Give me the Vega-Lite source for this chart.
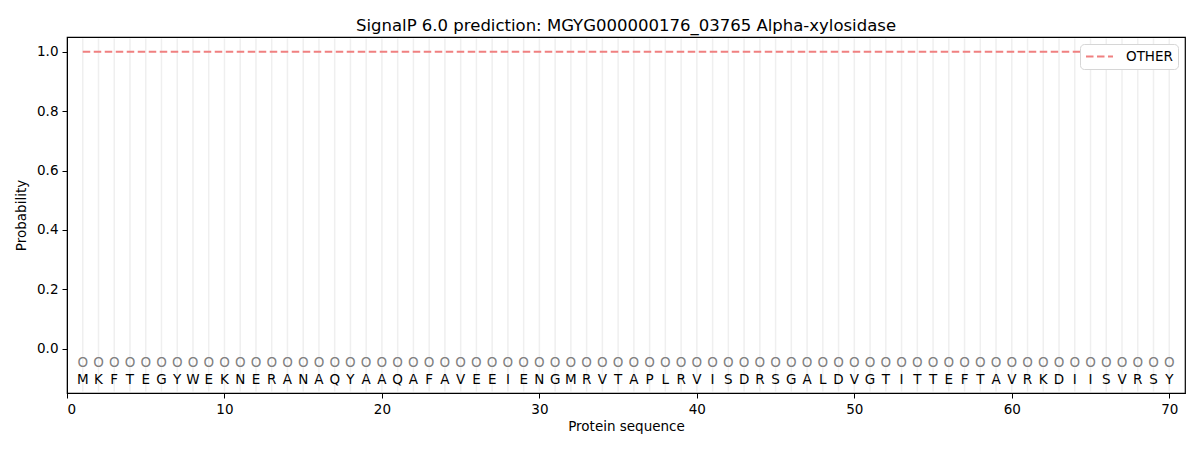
{
  "$schema": "https://vega.github.io/schema/vega-lite/v6.json",
  "autosize": {"type": "none"},
  "width": 1118,
  "height": 356,
  "padding": {"left": 67, "top": 37, "right": 15, "bottom": 57},
  "background": "white",
  "title": {
    "text": "SignalP 6.0 prediction: MGYG000000176_03765 Alpha-xylosidase",
    "font": "DejaVu Sans",
    "fontSize": 16.5,
    "fontWeight": "normal",
    "color": "black",
    "offset": 3
  },
  "data": {
    "values": [
      {"pos": 1, "aa": "M", "label": "O", "p": 1.0},
      {"pos": 2, "aa": "K", "label": "O", "p": 1.0},
      {"pos": 3, "aa": "F", "label": "O", "p": 1.0},
      {"pos": 4, "aa": "T", "label": "O", "p": 1.0},
      {"pos": 5, "aa": "E", "label": "O", "p": 1.0},
      {"pos": 6, "aa": "G", "label": "O", "p": 1.0},
      {"pos": 7, "aa": "Y", "label": "O", "p": 1.0},
      {"pos": 8, "aa": "W", "label": "O", "p": 1.0},
      {"pos": 9, "aa": "E", "label": "O", "p": 1.0},
      {"pos": 10, "aa": "K", "label": "O", "p": 1.0},
      {"pos": 11, "aa": "N", "label": "O", "p": 1.0},
      {"pos": 12, "aa": "E", "label": "O", "p": 1.0},
      {"pos": 13, "aa": "R", "label": "O", "p": 1.0},
      {"pos": 14, "aa": "A", "label": "O", "p": 1.0},
      {"pos": 15, "aa": "N", "label": "O", "p": 1.0},
      {"pos": 16, "aa": "A", "label": "O", "p": 1.0},
      {"pos": 17, "aa": "Q", "label": "O", "p": 1.0},
      {"pos": 18, "aa": "Y", "label": "O", "p": 1.0},
      {"pos": 19, "aa": "A", "label": "O", "p": 1.0},
      {"pos": 20, "aa": "A", "label": "O", "p": 1.0},
      {"pos": 21, "aa": "Q", "label": "O", "p": 1.0},
      {"pos": 22, "aa": "A", "label": "O", "p": 1.0},
      {"pos": 23, "aa": "F", "label": "O", "p": 1.0},
      {"pos": 24, "aa": "A", "label": "O", "p": 1.0},
      {"pos": 25, "aa": "V", "label": "O", "p": 1.0},
      {"pos": 26, "aa": "E", "label": "O", "p": 1.0},
      {"pos": 27, "aa": "E", "label": "O", "p": 1.0},
      {"pos": 28, "aa": "I", "label": "O", "p": 1.0},
      {"pos": 29, "aa": "E", "label": "O", "p": 1.0},
      {"pos": 30, "aa": "N", "label": "O", "p": 1.0},
      {"pos": 31, "aa": "G", "label": "O", "p": 1.0},
      {"pos": 32, "aa": "M", "label": "O", "p": 1.0},
      {"pos": 33, "aa": "R", "label": "O", "p": 1.0},
      {"pos": 34, "aa": "V", "label": "O", "p": 1.0},
      {"pos": 35, "aa": "T", "label": "O", "p": 1.0},
      {"pos": 36, "aa": "A", "label": "O", "p": 1.0},
      {"pos": 37, "aa": "P", "label": "O", "p": 1.0},
      {"pos": 38, "aa": "L", "label": "O", "p": 1.0},
      {"pos": 39, "aa": "R", "label": "O", "p": 1.0},
      {"pos": 40, "aa": "V", "label": "O", "p": 1.0},
      {"pos": 41, "aa": "I", "label": "O", "p": 1.0},
      {"pos": 42, "aa": "S", "label": "O", "p": 1.0},
      {"pos": 43, "aa": "D", "label": "O", "p": 1.0},
      {"pos": 44, "aa": "R", "label": "O", "p": 1.0},
      {"pos": 45, "aa": "S", "label": "O", "p": 1.0},
      {"pos": 46, "aa": "G", "label": "O", "p": 1.0},
      {"pos": 47, "aa": "A", "label": "O", "p": 1.0},
      {"pos": 48, "aa": "L", "label": "O", "p": 1.0},
      {"pos": 49, "aa": "D", "label": "O", "p": 1.0},
      {"pos": 50, "aa": "V", "label": "O", "p": 1.0},
      {"pos": 51, "aa": "G", "label": "O", "p": 1.0},
      {"pos": 52, "aa": "T", "label": "O", "p": 1.0},
      {"pos": 53, "aa": "I", "label": "O", "p": 1.0},
      {"pos": 54, "aa": "T", "label": "O", "p": 1.0},
      {"pos": 55, "aa": "T", "label": "O", "p": 1.0},
      {"pos": 56, "aa": "E", "label": "O", "p": 1.0},
      {"pos": 57, "aa": "F", "label": "O", "p": 1.0},
      {"pos": 58, "aa": "T", "label": "O", "p": 1.0},
      {"pos": 59, "aa": "A", "label": "O", "p": 1.0},
      {"pos": 60, "aa": "V", "label": "O", "p": 1.0},
      {"pos": 61, "aa": "R", "label": "O", "p": 1.0},
      {"pos": 62, "aa": "K", "label": "O", "p": 1.0},
      {"pos": 63, "aa": "D", "label": "O", "p": 1.0},
      {"pos": 64, "aa": "I", "label": "O", "p": 1.0},
      {"pos": 65, "aa": "I", "label": "O", "p": 1.0},
      {"pos": 66, "aa": "S", "label": "O", "p": 1.0},
      {"pos": 67, "aa": "V", "label": "O", "p": 1.0},
      {"pos": 68, "aa": "R", "label": "O", "p": 1.0},
      {"pos": 69, "aa": "S", "label": "O", "p": 1.0},
      {"pos": 70, "aa": "Y", "label": "O", "p": 1.0}
    ]
  },
  "encoding": {
    "x": {
      "field": "pos",
      "type": "quantitative",
      "scale": {"domain": [0, 71], "nice": false, "zero": false},
      "axis": {
        "values": [0, 10, 20, 30, 40, 50, 60, 70],
        "title": "Protein sequence",
        "grid": false,
        "titlePadding": 4
      }
    }
  },
  "layer": [
    {
      "mark": {"type": "rule", "color": "#efefef", "strokeWidth": 1.5},
      "encoding": {
        "y": {"datum": 1.045, "scale": {"domain": [-0.15, 1.05], "nice": false, "zero": false}},
        "y2": {"datum": -0.145}
      }
    },
    {
      "mark": {"type": "line", "strokeWidth": 2, "strokeDash": [7.5, 3.5]},
      "encoding": {
        "y": {
          "field": "p",
          "type": "quantitative",
          "scale": {"domain": [-0.15, 1.05], "nice": false, "zero": false},
          "axis": {
            "values": [0, 0.2, 0.4, 0.6, 0.8, 1.0],
            "format": ".1f",
            "title": "Probability",
            "grid": false,
            "titlePadding": 8
          }
        },
        "color": {
          "datum": "OTHER",
          "type": "nominal",
          "scale": {"domain": ["OTHER"], "range": ["#f08080"]},
          "legend": {
            "title": null,
            "orient": "none",
            "legendX": 1013,
            "legendY": 7,
            "symbolType": "stroke",
            "symbolDash": [7.5, 3.5],
            "symbolStrokeWidth": 2,
            "symbolSize": 729,
            "clipHeight": 15,
            "labelOffset": 12,
            "labelFontSize": 13.5,
            "labelFont": "DejaVu Sans",
            "labelColor": "black",
            "fillColor": "white",
            "strokeColor": "#d6d6d6",
            "cornerRadius": 4,
            "padding": 5
          }
        }
      }
    },
    {
      "mark": {"type": "text", "color": "#808080", "fontSize": 13.5, "font": "DejaVu Sans"},
      "encoding": {
        "y": {"datum": -0.05},
        "text": {"field": "label"}
      }
    },
    {
      "mark": {"type": "text", "color": "black", "fontSize": 13.5, "font": "DejaVu Sans"},
      "encoding": {
        "y": {"datum": -0.105},
        "text": {"field": "aa"}
      }
    }
  ],
  "config": {
    "view": {"stroke": "black", "strokeWidth": 1.2},
    "axis": {
      "labelFont": "DejaVu Sans",
      "titleFont": "DejaVu Sans",
      "labelFontSize": 13.5,
      "titleFontSize": 13.5,
      "titleFontWeight": "normal",
      "labelColor": "black",
      "titleColor": "black",
      "tickColor": "black",
      "domainColor": "black",
      "tickSize": 5,
      "labelPadding": 4
    }
  }
}
